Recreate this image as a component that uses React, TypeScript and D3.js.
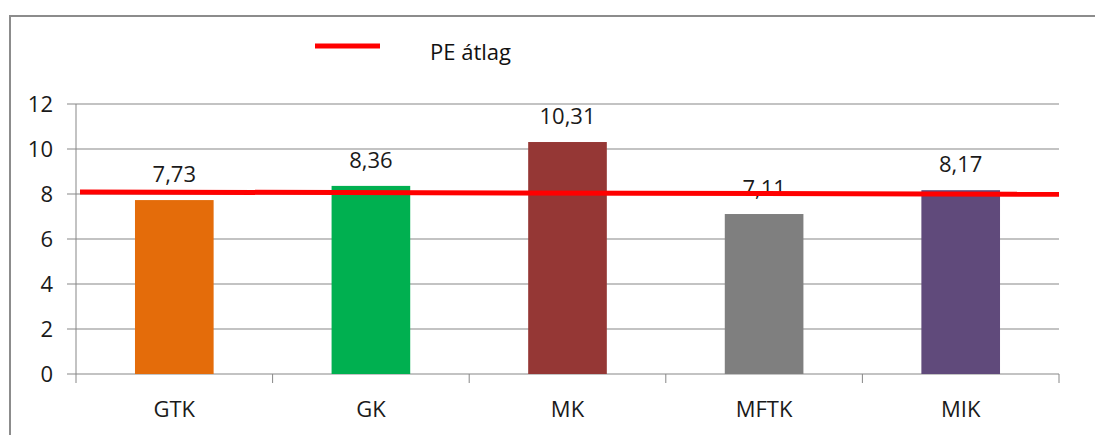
import React from 'react';
import * as d3 from 'd3';

// chart data
const categories = ['GTK', 'GK', 'MK', 'MFTK', 'MIK'];
const values = [7.73, 8.36, 10.31, 7.11, 8.17];
const valueLabels = ['7,73', '8,36', '10,31', '7,11', '8,17'];
const barColors = ['#E46C0A', '#00B050', '#953735', '#7F7F7F', '#604A7B'];
const yTicks = [0, 2, 4, 6, 8, 10, 12];
// PE átlag line: value at left edge and at right edge of the plot
const avgLine = [8.09, 7.99];
const legendLabel = 'PE átlag';

const W = 1095;
const H = 435;
const margin = { top: 104, right: 36, bottom: 61, left: 76 };
const font = '"Open Sans", "Noto Sans", sans-serif';
const grid = '#878787';
const fs = 22;

export default function App() {
  const x = d3
    .scaleBand<string>()
    .domain(categories)
    .range([margin.left, W - margin.right])
    .paddingInner(0.6)
    .paddingOuter(0.3);
  const y = d3.scaleLinear().domain([0, 12]).range([H - margin.bottom, margin.top]);
  const step = x.step();
  const x0 = margin.left;
  const x1 = W - margin.right;

  const redLine = d3
    .line<number>()
    .x((_, i) => (i === 0 ? x0 + 4 : x1))
    .y((d) => y(d));

  // category boundary ticks
  const boundaries = d3.range(categories.length + 1).map((i) => x0 + i * step);

  return (
    <svg
      width={W}
      height={H}
      style={{ position: 'absolute', left: 0, top: 0, background: '#fff' }}
      fontFamily={font}
    >
      {/* outer frame */}
      <path d={`M10,${H + 5} V16 H${W + 5}`} fill="none" stroke="#8C8C8C" strokeWidth={2} />

      {/* gridlines + y ticks */}
      {yTicks.map((t) => (
        <g key={t}>
          <line x1={x0 - 9} x2={x1} y1={y(t)} y2={y(t)} stroke={grid} strokeWidth={1} />
          <text x={53} y={y(t)} dy="0.36em" textAnchor="end" fontSize={fs} fill="#1a1a1a">
            {t}
          </text>
        </g>
      ))}
      <line x1={x0} x2={x0} y1={y(12)} y2={y(0)} stroke={grid} strokeWidth={1} />
      {boundaries.map((b, i) => (
        <line key={i} x1={b} x2={b} y1={y(0)} y2={y(0) + 9} stroke={grid} strokeWidth={1} />
      ))}

      {/* bars */}
      {categories.map((c, i) => (
        <rect
          key={c}
          x={x(c)}
          y={y(values[i])}
          width={x.bandwidth()}
          height={y(0) - y(values[i])}
          fill={barColors[i]}
        />
      ))}

      {/* value labels */}
      {categories.map((c, i) => (
        <text
          key={c}
          x={(x(c) as number) + x.bandwidth() / 2}
          y={y(values[i]) - 18}
          textAnchor="middle"
          fontSize={fs}
          fill="#1a1a1a"
        >
          {valueLabels[i]}
        </text>
      ))}

      {/* category labels */}
      {categories.map((c) => (
        <text
          key={c}
          x={(x(c) as number) + x.bandwidth() / 2}
          y={417}
          textAnchor="middle"
          fontSize={fs}
          fill="#1a1a1a"
        >
          {c}
        </text>
      ))}

      {/* PE átlag line */}
      <path d={redLine(avgLine) || ''} fill="none" stroke="#FF0000" strokeWidth={5} />

      {/* legend */}
      <line x1={315} x2={380} y1={46} y2={46} stroke="#FF0000" strokeWidth={5} />
      <text x={430} y={60} fontSize={fs} fill="#111">
        {legendLabel}
      </text>
    </svg>
  );
}
